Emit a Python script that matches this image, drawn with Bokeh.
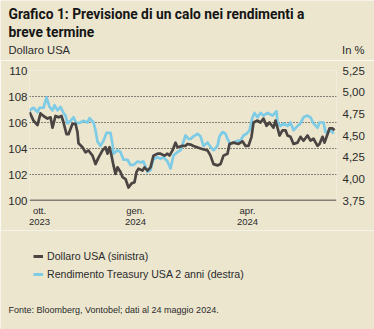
from bokeh.plotting import figure
from bokeh.layouts import column, row
from bokeh.models import (Range1d, LinearAxis, FixedTicker, Label, Span,
                          Legend, LegendItem)
from bokeh.embed import file_html
from bokeh.resources import INLINE

# Trading-day index since the start of the window (late Sept 2023 -> 24 May 2024)
usd_day = [0, 4, 8, 11, 14, 18, 21, 23, 26, 29, 32, 34, 37, 39, 43, 46, 48, 49,
           53, 56, 59, 63, 66, 69, 73, 76, 78, 80, 82, 84, 86, 88, 91, 93, 96,
           99, 102, 105, 107, 109, 113, 115, 118, 121, 124, 128, 131, 135, 138,
           140, 143, 146, 148, 153, 156, 158, 161, 164, 171, 178, 181, 184, 188,
           191, 194, 198, 200, 204, 209, 213, 216, 219, 222, 224, 228, 231, 234,
           237, 240, 244, 246, 248, 250, 253, 256, 258, 261, 264, 268, 271, 274,
           278, 281, 284, 288, 290, 293, 295, 298, 300, 303, 305]
usd_value = [106.8, 106.15, 105.8, 106.7, 106.5, 106.3, 106.4, 105.6, 106.5,
             106.4, 106.5, 106.0, 105.1, 105.1, 105.9, 105.9, 105.25, 104.4,
             104.1, 103.7, 103.85, 103.45, 102.8, 103.3, 103.85, 104.1, 103.6,
             104.1, 103.45, 102.7, 102.05, 102.55, 102.2, 101.8, 101.65, 101.0,
             101.3, 101.4, 102.2, 102.45, 102.3, 102.55, 102.3, 102.55, 103.45,
             103.6, 103.6, 103.45, 103.6, 103.45, 103.85, 104.45, 104.1, 104.2,
             104.2, 104.35, 104.3, 104.2, 104.0, 103.85, 103.45, 102.8, 102.7,
             102.8, 103.45, 103.6, 104.35, 104.45, 104.35, 104.55, 104.2, 104.2,
             104.9, 106.0, 106.15, 106.0, 106.3, 105.75, 106.0, 105.6, 106.15,
             105.6, 105.0, 105.4, 105.4, 105.0, 104.9, 104.35, 104.45, 104.9,
             104.6, 105.0, 104.6, 104.75, 104.2, 104.35, 104.9, 104.45, 105.1,
             105.55, 105.55, 105.4]

ust2y_day = [0, 4, 8, 10, 14, 17, 20, 23, 25, 28, 31, 34, 36, 38, 41, 44, 47,
             51, 54, 58, 60, 64, 66, 68, 71, 74, 77, 81, 83, 84, 88, 91, 94, 98,
             101, 104, 108, 111, 114, 118, 121, 124, 128, 131, 134, 138, 141,
             144, 148, 151, 154, 156, 159, 161, 164, 168, 171, 174, 178, 181,
             184, 188, 190, 193, 196, 198, 201, 204, 208, 211, 214, 217, 220,
             223, 225, 228, 231, 234, 238, 243, 247, 248, 251, 254, 258, 261,
             264, 268, 271, 274, 278, 281, 284, 288, 290, 294, 296, 299, 302,
             304]
ust2y_yield = [4.79, 4.82, 4.77, 4.82, 4.82, 4.94, 4.83, 4.79, 4.85, 4.79, 4.83,
               4.76, 4.73, 4.64, 4.67, 4.71, 4.64, 4.65, 4.67, 4.65, 4.70, 4.65,
               4.56, 4.43, 4.38, 4.44, 4.53, 4.53, 4.40, 4.29, 4.33, 4.31, 4.22,
               4.22, 4.16, 4.16, 4.20, 4.19, 4.20, 4.08, 4.10, 4.23, 4.25, 4.23,
               4.25, 4.20, 4.12, 4.27, 4.31, 4.33, 4.43, 4.50, 4.46, 4.46, 4.49,
               4.52, 4.49, 4.38, 4.42, 4.37, 4.33, 4.38, 4.49, 4.54, 4.52, 4.46,
               4.40, 4.42, 4.44, 4.44, 4.50, 4.52, 4.56, 4.71, 4.76, 4.71, 4.76,
               4.73, 4.76, 4.73, 4.78, 4.65, 4.61, 4.64, 4.61, 4.65, 4.56, 4.61,
               4.64, 4.71, 4.73, 4.71, 4.64, 4.59, 4.65, 4.65, 4.54, 4.54, 4.56,
               4.52]

month_day = [10, 106, 218]
month_label = ["ott.\n2023", "gen.\n2024", "apr.\n2024"]

usd_ticks = [100, 102, 104, 106, 108, 110]
yield_ticks = [3.75, 4.00, 4.25, 4.50, 4.75, 5.00, 5.25]

BG = "#ECE6CF"
INK = "#2b2b2b"
DARK = "#4a4542"
BLUE = "#7ecbe6"
SANS = "Liberation Sans"
W = 374


def text_panel(height):
    """A blank strip (pixel coordinates, y growing downwards) for headings and notes."""
    f = figure(width=W, height=height, output_backend="svg", toolbar_location=None,
               x_range=Range1d(0, W), y_range=Range1d(height, 0),
               min_border=0, min_border_left=0, min_border_right=0,
               min_border_top=0, min_border_bottom=0,
               background_fill_color=BG, border_fill_color=BG)
    f.axis.visible = False
    f.grid.visible = False
    f.outline_line_color = None
    return f


def put(f, x, y, text, size, bold=False, align="left", color=INK, font=SANS):
    f.add_layout(Label(x=x, y=y, text=text, text_font=font, text_font_size=size,
                       text_font_style="bold" if bold else "normal",
                       text_color=color, text_align=align, text_baseline="middle"))


def quiet_axis(ax, size):
    ax.axis_line_color = None
    ax.major_tick_line_color = None
    ax.minor_tick_line_color = None
    ax.major_tick_out = 0
    ax.major_tick_in = 0
    ax.minor_tick_out = 0
    ax.minor_tick_in = 0
    ax.major_label_text_font = SANS
    ax.major_label_text_font_size = size
    ax.major_label_text_color = INK


# ---- heading strip
top = text_panel(60)
put(top, 8, 13, "Grafico 1: Previsione di un calo nei rendimenti a", "13.8px",
    bold=True, color="#151515", font="Roboto")
put(top, 8, 31, "breve termine", "13.8px", bold=True, color="#151515", font="Roboto")
put(top, 8, 49, "Dollaro USA", "11.2px")
put(top, 364, 49, "In %", "11.2px", align="right")

# ---- main chart
p = figure(width=W, height=170, output_backend="svg", toolbar_location=None,
           x_range=Range1d(0, 307), y_range=Range1d(100, 110),
           min_border_left=29, min_border_right=38,
           min_border_top=10, min_border_bottom=30,
           background_fill_color=BG, border_fill_color=BG)
p.outline_line_color = None

p.yaxis.ticker = FixedTicker(ticks=usd_ticks)
quiet_axis(p.yaxis[0], "11.5px")
p.yaxis.major_label_standoff = 2

p.extra_y_ranges = {"yield": Range1d(3.75, 5.25)}
ax_r = LinearAxis(y_range_name="yield", ticker=FixedTicker(ticks=yield_ticks))
ax_r.major_label_overrides = {t: f"{t:.2f}".replace(".", ",") for t in yield_ticks}
quiet_axis(ax_r, "11.5px")
ax_r.major_label_standoff = 6
p.add_layout(ax_r, "right")

p.xaxis.ticker = FixedTicker(ticks=month_day)
p.xaxis.major_label_overrides = dict(zip(month_day, month_label))
quiet_axis(p.xaxis[0], "9.5px")
p.xaxis.major_label_text_line_height = 1.0
p.xaxis.major_label_standoff = 4

p.xgrid.visible = False
p.ygrid.ticker = FixedTicker(ticks=usd_ticks[1:])
p.ygrid.grid_line_color = "#1a1a1a"
p.ygrid.grid_line_dash = "1 2"
p.ygrid.grid_line_width = 1.2

p.add_layout(Span(location=100, dimension="width", line_color="#111111",
                  line_width=1.5))

p.line(ust2y_day, ust2y_yield, y_range_name="yield", color=BLUE,
       line_width=2.7, line_join="round")
p.line(usd_day, usd_value, color=DARK, line_width=2.7, line_join="round")

# ---- legend and source strip (legend keys are off-canvas proxies)
bottom = text_panel(99)
k_dark = bottom.line([-50, -40], [-50, -50], color=DARK, line_width=3)
k_blue = bottom.line([-50, -40], [-50, -50], color=BLUE, line_width=3)
legend = Legend(items=[LegendItem(label="Dollaro USA (sinistra)", renderers=[k_dark]),
                       LegendItem(label="Rendimento Treasury USA 2 anni (destra)",
                                  renderers=[k_blue])],
                location=(33, 46), orientation="vertical",
                background_fill_alpha=0, border_line_color=None,
                label_text_font=SANS, label_text_font_size="10.6px",
                label_text_color=INK, glyph_width=10, glyph_height=10,
                label_standoff=4, spacing=0, padding=0, margin=0,
                label_height=18)
bottom.add_layout(legend, "center")
put(bottom, 8, 79, "Fonte: Bloomberg, Vontobel; dati al 24 maggio 2024.", "9px")

page = column(row(top), p, row(bottom), spacing=0)
open("out.html", "w").write(file_html(page, INLINE))
